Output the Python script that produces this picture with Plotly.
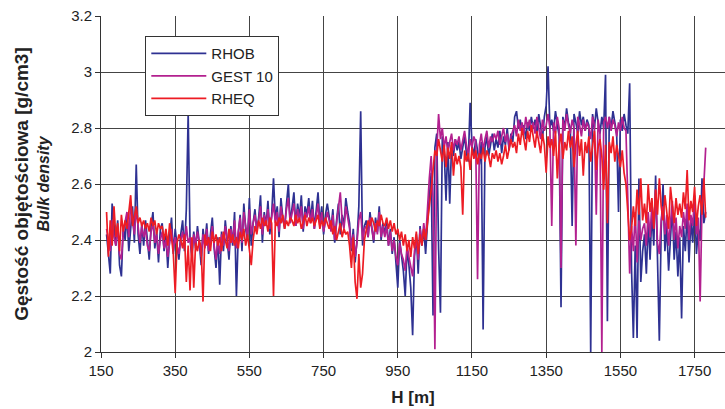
import plotly.graph_objects as go

# depth axis: 165 m to 1780 m every 5 m
depth_start = 165
depth_step = 5

rhob = [
    2.42, 2.35, 2.28, 2.53, 2.44, 2.38, 2.47, 2.31, 2.27, 2.45,
    2.40, 2.49, 2.36, 2.44, 2.52, 2.39, 2.67, 2.42, 2.35, 2.46,
    2.38, 2.47, 2.41, 2.33, 2.45, 2.50, 2.37, 2.43, 2.32, 2.44,
    2.46, 2.36, 2.42, 2.30, 2.41, 2.48, 2.35, 2.44, 2.38, 2.33,
    2.42, 2.47, 2.36, 2.51, 2.85, 2.40, 2.34, 2.43, 2.37, 2.45,
    2.39, 2.31, 2.44, 2.38, 2.46, 2.35, 2.42, 2.48, 2.37, 2.30,
    2.41, 2.24, 2.43, 2.36, 2.47, 2.39, 2.33, 2.45, 2.38, 2.50,
    2.20, 2.42, 2.49, 2.36, 2.53, 2.44, 2.40, 2.55, 2.38, 2.46,
    2.51, 2.43, 2.48, 2.56, 2.39, 2.50, 2.45, 2.54, 2.42, 2.49,
    2.62, 2.47, 2.52, 2.41, 2.55, 2.48, 2.44, 2.53, 2.60, 2.46,
    2.51, 2.57, 2.45, 2.53, 2.48, 2.56, 2.43, 2.52, 2.49, 2.55,
    2.47, 2.54, 2.44, 2.50, 2.57, 2.46, 2.52, 2.42, 2.49, 2.53,
    2.48, 2.44, 2.51, 2.39, 2.47, 2.53, 2.42, 2.49, 2.45, 2.55,
    2.50, 2.46, 2.36, 2.44, 2.32, 2.40, 2.52, 2.86, 2.38, 2.45,
    2.47, 2.41, 2.50, 2.44, 2.39, 2.48, 2.43, 2.52, 2.40, 2.46,
    2.42, 2.47, 2.38, 2.44, 2.35, 2.41, 2.32, 2.23, 2.40, 2.34,
    2.29, 2.20, 2.37, 2.31, 2.23, 2.06, 2.34, 2.42, 2.28, 2.45,
    2.38, 2.44, 2.35, 2.46, 2.55, 2.64, 2.13, 2.73, 2.78, 2.37,
    2.14, 2.77, 2.72, 2.54, 2.75, 2.53, 2.74, 2.70, 2.76, 2.72,
    2.75, 2.69, 2.73, 2.77, 2.71, 2.68, 2.89, 2.74, 2.70, 2.76,
    2.72, 2.67, 2.75, 2.08, 2.73, 2.77, 2.70, 2.74, 2.78, 2.72,
    2.76, 2.73, 2.79, 2.71, 2.77, 2.74, 2.80, 2.72, 2.78, 2.75,
    2.84, 2.86, 2.80, 2.83, 2.78, 2.81, 2.76, 2.82, 2.79, 2.84,
    2.80, 2.83, 2.78, 2.85, 2.81, 2.76, 2.84, 2.88, 3.02, 2.80,
    2.83, 2.79, 2.86, 2.81, 2.77, 2.16, 2.84, 2.80, 2.87, 2.82,
    2.80, 2.45, 2.85, 2.82, 2.78, 2.86, 2.81, 2.84, 2.79, 2.83,
    2.81, 2.00, 2.85, 2.80, 2.87, 2.82, 2.78, 2.84, 2.80, 2.99,
    2.11, 2.84, 2.80, 2.86, 2.82, 2.78, 2.50, 2.83, 2.79, 2.85,
    2.81, 2.78, 2.96, 2.30, 2.05, 2.38, 2.05, 2.62, 2.25, 2.36,
    2.42, 2.28, 2.47, 2.33, 2.50, 2.38, 2.63, 2.30, 2.04, 2.44,
    2.60, 2.36, 2.45, 2.29, 2.40, 2.52, 2.33, 2.43, 2.27, 2.41,
    2.12, 2.45, 2.36, 2.50, 2.32, 2.47, 2.39, 2.55, 2.35, 2.44,
    2.40, 2.62, 2.46, 2.50,
]

gest10 = [
    2.44, 2.39, 2.36, 2.47, 2.41, 2.38, 2.45, 2.35, 2.33, 2.43,
    2.46, 2.50, 2.41, 2.53, 2.47, 2.42, 2.51, 2.44, 2.39, 2.45,
    2.41, 2.44, 2.38, 2.36, 2.43, 2.46, 2.39, 2.42, 2.35, 2.40,
    2.43, 2.37, 2.40, 2.34, 2.39, 2.44, 2.36, 2.41, 2.38, 2.35,
    2.40, 2.43, 2.37, 2.45, 2.39, 2.41, 2.35, 2.42, 2.38, 2.43,
    2.39, 2.34, 2.42, 2.37, 2.44, 2.36, 2.40, 2.45, 2.38, 2.33,
    2.40, 2.35, 2.42, 2.38, 2.45, 2.40, 2.36, 2.44, 2.39, 2.47,
    2.37, 2.43, 2.48, 2.39, 2.50, 2.45, 2.41, 2.51, 2.42, 2.46,
    2.49, 2.44, 2.47, 2.52, 2.42, 2.49, 2.45, 2.51, 2.44, 2.48,
    2.53, 2.46, 2.50, 2.43, 2.52, 2.47, 2.45, 2.51, 2.55, 2.46,
    2.49, 2.53, 2.45, 2.51, 2.47, 2.52, 2.44, 2.50, 2.48, 2.52,
    2.46, 2.51, 2.44, 2.48, 2.53, 2.45, 2.50, 2.43, 2.47, 2.50,
    2.47, 2.43, 2.49, 2.40, 2.46, 2.51, 2.57, 2.47, 2.44, 2.52,
    2.48, 2.44, 2.37, 2.42, 2.34, 2.39, 2.47, 2.50, 2.40, 2.44,
    2.45, 2.41, 2.48, 2.43, 2.40, 2.46, 2.42, 2.50, 2.41, 2.45,
    2.41, 2.45, 2.38, 2.43, 2.36, 2.40, 2.34, 2.31, 2.39, 2.35,
    2.33, 2.29, 2.38, 2.34, 2.30, 2.27, 2.36, 2.41, 2.33, 2.44,
    2.39, 2.46, 2.40, 2.52, 2.62, 2.70, 2.55, 2.01, 2.72, 2.85,
    2.76, 2.80, 2.73, 2.77, 2.71, 2.75, 2.78, 2.72, 2.76, 2.74,
    2.77, 2.72, 2.75, 2.79, 2.74, 2.70, 2.76, 2.73, 2.77, 2.75,
    2.26, 2.74, 2.78, 2.72, 2.76, 2.79, 2.73, 2.77, 2.75, 2.78,
    2.76, 2.79, 2.74, 2.77, 2.80, 2.75, 2.78, 2.73, 2.77, 2.79,
    2.81, 2.77, 2.83, 2.79, 2.82, 2.78, 2.84, 2.80, 2.83, 2.79,
    2.82, 2.78, 2.84, 2.80, 2.76, 2.83, 2.79, 2.81, 2.85, 2.80,
    2.45, 2.82, 2.78, 2.84, 2.80, 2.30, 2.83, 2.79, 2.85, 2.81,
    2.78, 2.83, 2.80, 2.38, 2.84, 2.81, 2.77, 2.83, 2.79, 2.82,
    2.80, 2.76, 2.84, 2.81, 2.49, 2.83, 2.78, 2.00, 2.82, 2.84,
    2.80, 2.84, 2.79, 2.83, 2.81, 2.77, 2.82, 2.79, 2.84, 2.80,
    2.79, 2.55, 2.28, 2.45, 2.36, 2.50, 2.32, 2.47, 2.40, 2.44,
    2.46, 2.38, 2.50, 2.41, 2.53, 2.44, 2.58, 2.39, 2.35, 2.47,
    2.52, 2.42, 2.49, 2.38, 2.46, 2.54, 2.40, 2.48, 2.37, 2.45,
    2.41, 2.50, 2.44, 2.53, 2.40, 2.49, 2.45, 2.56, 2.42, 2.48,
    2.18, 2.52, 2.60, 2.73,
]

rheq = [
    2.50, 2.34, 2.47, 2.38, 2.52, 2.41, 2.46, 2.36, 2.49, 2.43,
    2.47, 2.44, 2.50, 2.56, 2.45, 2.49, 2.52, 2.46, 2.48, 2.45,
    2.47, 2.44, 2.46, 2.43, 2.48, 2.45, 2.47, 2.42, 2.46, 2.44,
    2.45, 2.40, 2.44, 2.38, 2.46, 2.41, 2.35, 2.21, 2.39, 2.42,
    2.40, 2.37, 2.42, 2.25, 2.38, 2.22, 2.41, 2.23, 2.39, 2.36,
    2.40, 2.37, 2.18, 2.42, 2.38, 2.41, 2.36, 2.43, 2.39, 2.42,
    2.38, 2.41, 2.36, 2.43, 2.40, 2.37, 2.44, 2.39, 2.42, 2.38,
    2.41, 2.37, 2.43, 2.40, 2.44, 2.38, 2.42, 2.36, 2.31, 2.40,
    2.45, 2.42, 2.47, 2.44, 2.48, 2.45, 2.47, 2.43, 2.48, 2.46,
    2.20, 2.47, 2.45, 2.48, 2.46, 2.49, 2.44, 2.47, 2.45, 2.48,
    2.47, 2.45, 2.49, 2.46, 2.48, 2.44, 2.47, 2.49, 2.45, 2.48,
    2.46, 2.48, 2.45, 2.47, 2.49, 2.44, 2.47, 2.45, 2.48, 2.46,
    2.44, 2.47, 2.42, 2.45, 2.40, 2.43, 2.46, 2.41, 2.44, 2.42,
    2.43, 2.38, 2.30, 2.41, 2.25, 2.19, 2.35, 2.23, 2.28, 2.40,
    2.44, 2.47, 2.45, 2.48, 2.46, 2.43, 2.47, 2.45, 2.49, 2.46,
    2.45, 2.48, 2.44, 2.47, 2.43, 2.46, 2.42, 2.44, 2.40, 2.43,
    2.38, 2.42, 2.36, 2.40, 2.34, 2.41, 2.37, 2.43, 2.35, 2.42,
    2.38, 2.44, 2.40, 2.46, 2.50, 2.58, 2.65, 2.72, 2.70, 2.76,
    2.72, 2.68, 2.74, 2.66, 2.73, 2.69, 2.75, 2.63, 2.71, 2.67,
    2.70, 2.66, 2.49, 2.72, 2.68, 2.71, 2.65, 2.73, 2.69, 2.72,
    2.67, 2.71, 2.69, 2.73, 2.68, 2.72, 2.70, 2.66, 2.71, 2.69,
    2.72, 2.68, 2.71, 2.67, 2.70, 2.74, 2.69, 2.72, 2.76, 2.73,
    2.75, 2.71, 2.78, 2.74, 2.80, 2.76, 2.72, 2.79, 2.75, 2.81,
    2.77, 2.73, 2.79, 2.75, 2.71, 2.78, 2.74, 2.64, 2.77, 2.73,
    2.76, 2.70, 2.79, 2.62, 2.74, 2.78, 2.69, 2.75, 2.72, 2.79,
    2.73, 2.77, 2.66, 2.74, 2.79, 2.70, 2.76, 2.63, 2.75, 2.71,
    2.77, 2.68, 2.74, 2.79, 2.65, 2.73, 2.76, 2.70, 2.58, 2.74,
    2.46, 2.75, 2.71, 2.77, 2.68, 2.74, 2.70, 2.66, 2.72, 2.64,
    2.60, 2.48, 2.40, 2.44, 2.52, 2.45, 2.58, 2.49, 2.62, 2.47,
    2.53, 2.46, 2.60, 2.50, 2.55, 2.44, 2.58, 2.49, 2.62, 2.52,
    2.47, 2.56, 2.50, 2.44, 2.59, 2.51, 2.46, 2.55, 2.49, 2.53,
    2.48, 2.57, 2.51, 2.65, 2.47, 2.54, 2.50, 2.59, 2.45, 2.52,
    2.56, 2.49, 2.62, 2.48,
]

n = min(len(rhob), len(gest10), len(rheq))
depth = [depth_start + depth_step * i for i in range(n)]

x_ticks = [150, 350, 550, 750, 950, 1150, 1350, 1550, 1750]
y_ticks = [2, 2.2, 2.4, 2.6, 2.8, 3, 3.2]

series = [
    ("RHOB", rhob, "#2e3192"),
    ("GEST 10", gest10, "#b3208f"),
    ("RHEQ", rheq, "#ed1c24"),
]

fig = go.Figure()
for name, vals, col in series:
    fig.add_trace(go.Scatter(
        x=depth, y=vals[:n], name=name, mode="lines",
        line=dict(color=col, width=1.7),
    ))

FONT = "Liberation Sans, Arial, sans-serif"
fig.update_layout(
    width=725, height=409,
    margin=dict(l=101, r=0, t=16, b=57),
    paper_bgcolor="white", plot_bgcolor="white",
    font=dict(family=FONT, size=15, color="#222"),
    showlegend=True,
    legend=dict(
        x=0.071, y=0.94, xanchor="left", yanchor="top",
        bgcolor="white", bordercolor="#333", borderwidth=1,
        font=dict(size=15, color="#222"),
        itemwidth=55, traceorder="normal",
    ),
    xaxis=dict(
        range=[150, 1832], tickvals=x_ticks,
        showgrid=True, gridcolor="#444", gridwidth=1.4,
        showline=True, linecolor="#333", linewidth=1,
        ticks="outside", ticklen=5, tickcolor="#333",
        zeroline=False,
        title=dict(text="<b>H [m]</b>", standoff=13, font=dict(size=17)),
    ),
    yaxis=dict(
        range=[2, 3.2], tickvals=y_ticks,
        showgrid=True, gridcolor="#444", gridwidth=1.4,
        showline=True, linecolor="#333", linewidth=1,
        ticks="outside", ticklen=5, tickcolor="#333",
        zeroline=False,
        title=dict(text="<b><span style='font-size:19px'>Gęstość objętościowa [g/cm3]</span></b><br><b><i>Bulk density</i></b>",
                   standoff=17, font=dict(size=16)),
    ),
)

fig.write_html("out.html")
